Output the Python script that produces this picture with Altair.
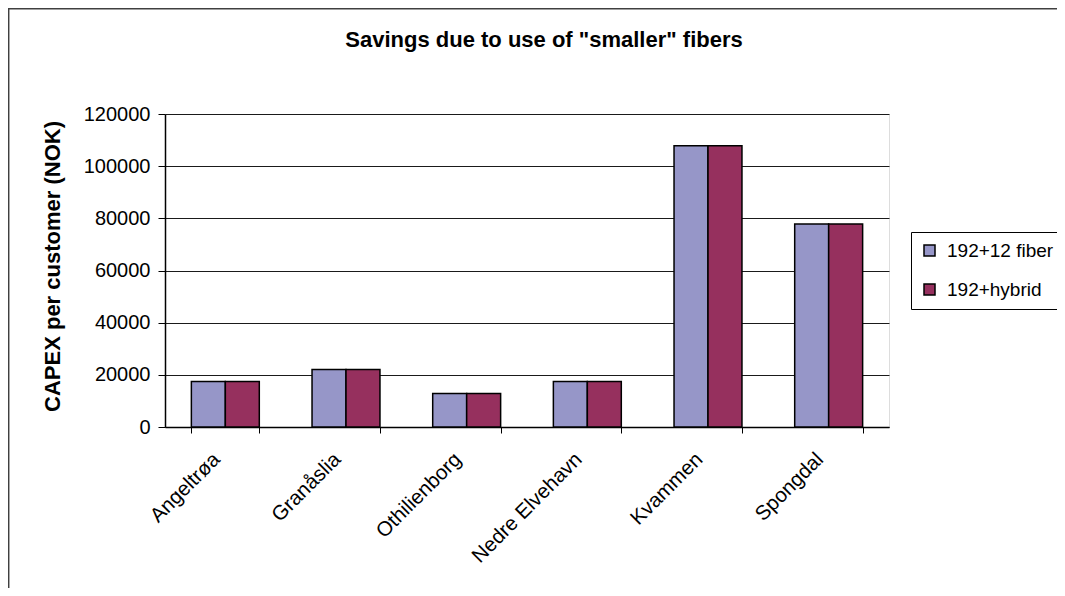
import altair as alt
import pandas as pd

sites = ["Angeltrøa", "Granåslia", "Othilienborg", "Nedre Elvehavn", "Kvammen", "Spongdal"]
series = ["192+12 fiber", "192+hybrid"]
fiber12 = [17400, 22000, 12800, 17400, 107800, 77800]
hybrid = [17400, 22000, 12800, 17400, 107800, 77800]
colors = ["#9696C8", "#96305E"]
y_ticks = [0, 20000, 40000, 60000, 80000, 100000, 120000]
title_text = 'Savings due to use of "smaller" fibers'
y_title = "CAPEX per customer (NOK)"

rows = []
for s, a, b in zip(sites, fiber12, hybrid):
    rows.append({"site": s, "series": series[0], "value": a})
    rows.append({"site": s, "series": series[1], "value": b})
df = pd.DataFrame(rows)

FONT = "Liberation Sans"
W, H = 724, 313

bars = alt.Chart(df).mark_bar(stroke="black", strokeWidth=1.5).encode(
    x=alt.X(
        "site:N",
        sort=sites,
        scale=alt.Scale(paddingInner=0.437, paddingOuter=0.2185),
        axis=alt.Axis(
            title=None,
            labelAngle=-45,
            labelAlign="right",
            labelBaseline="middle",
            labelPadding=23,
            labelOffset=-9,
            labelFontSize=20.5,
            labelFont=FONT,
            labelColor="black",
            tickBand="extent",
            tickSize=6,
            tickColor="black",
            domainColor="black",
            domainWidth=1.5,
            grid=False,
        ),
    ),
    xOffset=alt.XOffset("series:N", sort=series, scale=alt.Scale(paddingInner=0, paddingOuter=0)),
    y=alt.Y(
        "value:Q",
        scale=alt.Scale(domain=[0, 120000], nice=False),
        axis=alt.Axis(
            title=y_title,
            titleFont=FONT,
            titleFontSize=22,
            titleFontWeight="bold",
            titleColor="black",
            titleAngle=-90,
            titleX=-101,
            titleY=152,
            titleBaseline="bottom",
            titleAlign="center",
            values=y_ticks,
            format="d",
            labelFontSize=20,
            labelFont=FONT,
            labelColor="black",
            labelPadding=8,
            tickSize=7,
            tickColor="black",
            domainColor="black",
            domainWidth=1.5,
            grid=True,
            gridColor="#1a1a1a",
            gridWidth=1.2,
        ),
    ),
    color=alt.Color(
        "series:N",
        sort=series,
        scale=alt.Scale(domain=series, range=colors),
        legend=alt.Legend(
            title=None,
            orient="none",
            legendX=746,
            legendY=118,
            direction="vertical",
            strokeColor="black",
            fillColor="white",
            padding=9,
            symbolType="square",
            symbolSize=121,
            symbolStrokeColor="black",
            symbolStrokeWidth=1.5,
            labelFontSize=19,
            labelFont=FONT,
            labelColor="black",
            labelOffset=8,
            labelLimit=200,
            rowPadding=19,
        ),
    ),
)

one = pd.DataFrame({"k": [0]})

border = alt.Chart(one).mark_rect(
    filled=False, stroke="#404040", strokeWidth=1.5
).encode(
    x=alt.value(-156.3),
    x2=alt.value(2000),
    y=alt.value(-105.3),
    y2=alt.value(2000),
)

title = alt.Chart(one).mark_text(
    font=FONT, fontSize=22, fontWeight="bold", color="black",
    align="center", baseline="alphabetic",
).encode(
    x=alt.value(379),
    y=alt.value(-67),
    text=alt.value(title_text),
)

chart = alt.layer(border, bars, title).properties(
    width=W,
    height=H,
    autosize=alt.AutoSizeParams(type="none"),
    padding={"left": 157, "top": 106, "right": 168, "bottom": 161},
).configure_view(
    fill="#C0C0C0", stroke="#808080", strokeWidth=1
).configure(background="white")

chart.save("out.html", embed_options={"renderer": "svg", "actions": False})
